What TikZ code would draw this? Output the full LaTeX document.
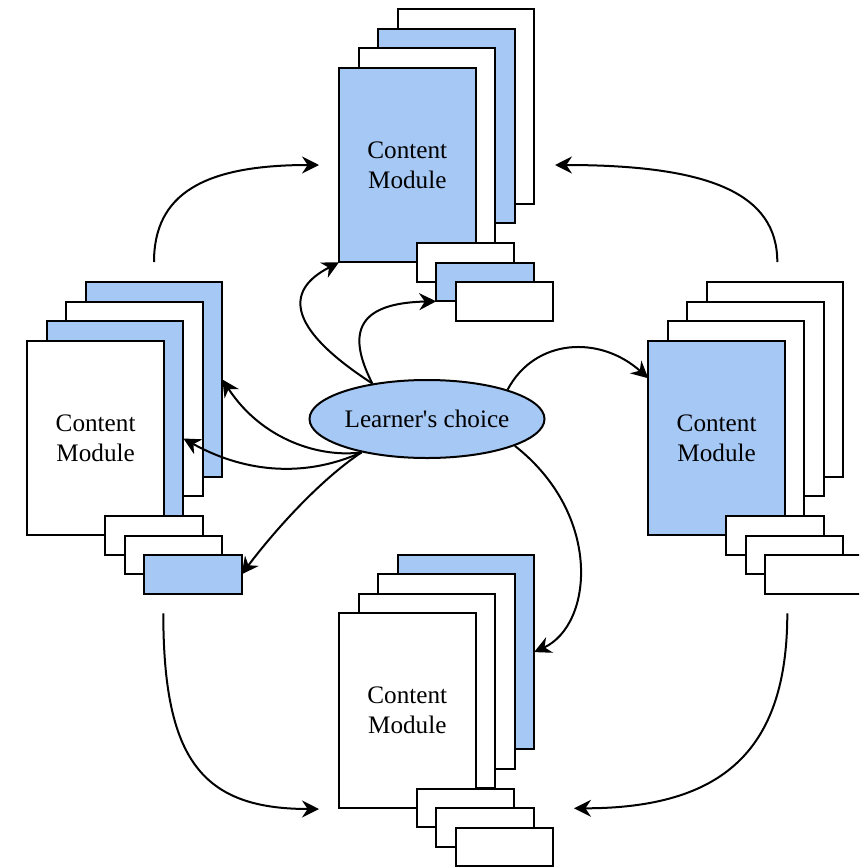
\documentclass[tikz,border=0pt]{standalone}
\usepackage{fontspec}
\setmainfont{Liberation Serif}
\usetikzlibrary{arrows.meta,shapes.geometric,calc}
\definecolor{modblue}{RGB}{166,200,245}

% A stack of four module pages with three tabs at the lower right.
% #1 name prefix, #2 top-left corner of the front page,
% #3..#6 page fills (front to back), #7..#9 tab fills (back to front)
\newcommand{\modstack}[9]{%
  \begin{scope}[shift={(#2)}]
    \node[page,fill=#6] (#1-4) at (58.5,-58.5) {};
    \node[page,fill=#5] (#1-3) at (39,-39) {};
    \node[page,fill=#4] (#1-2) at (19.5,-19.5) {};
    \node[page,fill=#3] (#1-1) at (0,0) {Content\\Module};
    \node[tab,fill=#7] (#1-a) at (77.7,175.3) {};
    \node[tab,fill=#8] (#1-b) at (97.2,194.8) {};
    \node[tab,fill=#9] (#1-c) at (116.7,214.3) {};
  \end{scope}}

\begin{document}
\begin{tikzpicture}[x=0.5pt,y=-0.5pt,
  page/.style={draw=black,line width=1pt,anchor=north west,outer sep=0pt,
    inner sep=0pt,minimum width=68.3pt,minimum height=97.3pt,align=center,
    font=\fontsize{12.6}{15}\selectfont},
  tab/.style={draw=black,line width=1pt,anchor=north west,outer sep=0pt,
    inner sep=0pt,minimum width=48.8pt,minimum height=19.4pt},
  link/.style={line width=1pt,-{Stealth[length=8.5pt,width=8.5pt,inset=2.8pt]}},
]
\clip (0,0) rectangle (859,867);
\fill[white] (0,0) rectangle (859,867);

\modstack{T}{339,67.7}{modblue}{white}{modblue}{white}{white}{modblue}{white}
\modstack{L}{27.3,340.7}{white}{modblue}{white}{modblue}{white}{white}{modblue}
\modstack{R}{648.3,340.7}{modblue}{white}{white}{white}{white}{white}{white}
\modstack{B}{339,613.3}{white}{white}{white}{modblue}{white}{white}{white}

\node[ellipse,draw=black,line width=1pt,fill=modblue,inner sep=0pt,
  minimum width=117.5pt,minimum height=39pt,
  font=\fontsize{12.6}{15}\selectfont] (lc) at (427,419) {Learner\textquotesingle s choice};

% choices leaving the central ellipse
\draw[link] (lc.147) .. controls (262,312) and (305,280) .. (T-1.south west);
\draw[link] (lc.147) .. controls (345,330) and (360,303) .. (T-b.south west);
\draw[link] (lc.20) .. controls (535,338) and (600,335) .. ($(R-1.north west)+(0,37.6)$);
\draw[link] (lc.-17) .. controls (603,515) and (593,625) .. (B-4.east);
\draw[link] (lc.207) .. controls (320,458) and (262,440) .. (L-4.east);
\draw[link] (lc.207) .. controls (300,480) and (240,470) .. ($(L-2.east)+(0,20)$);
\draw[link] (lc.207) .. controls (320,480) and (275,530) .. (L-c.east);

% flow between the outer stacks
\coordinate (tlS) at (154,262);   \coordinate (tlE) at (319,165);
\coordinate (trS) at (777.3,262); \coordinate (trE) at (555,165);
\coordinate (blS) at (163.3,613.3); \coordinate (blE) at (319,809);
\coordinate (brS) at (787.3,613.3); \coordinate (brE) at (574,808.3);
\draw[link] (tlS) .. controls (154,194) and (203.5,165) .. (tlE);
\draw[link] (trS) .. controls (777.3,194) and (710.6,165) .. (trE);
\draw[link] (blS) .. controls (163.3,760) and (202.2,809) .. (blE);
\draw[link] (brS) .. controls (787.3,749.8) and (723.3,808.3) .. (brE);
\end{tikzpicture}
\end{document}
